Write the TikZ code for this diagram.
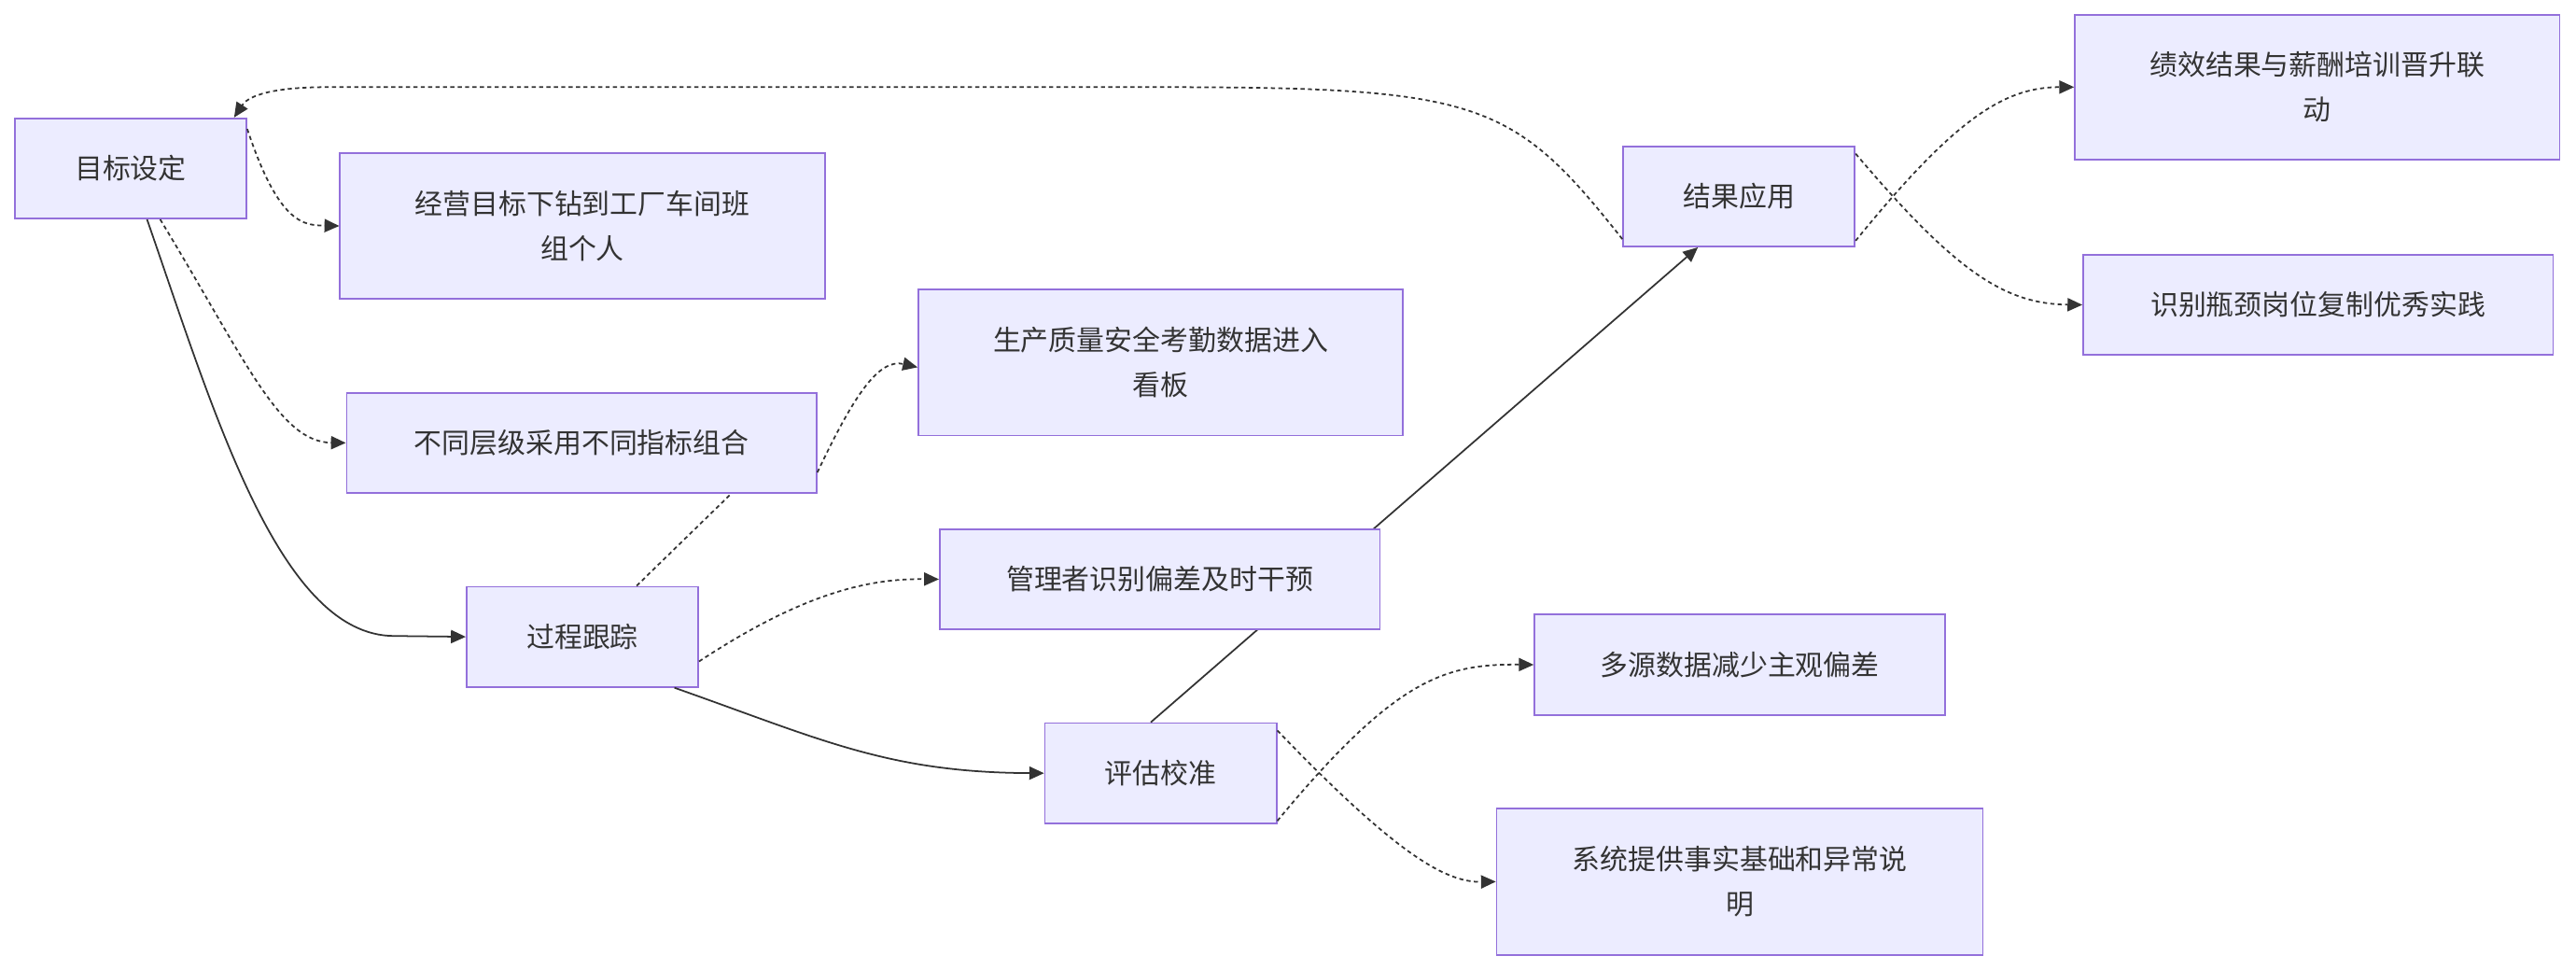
\documentclass[tikz,border=0pt]{standalone}
\usepackage{fontspec}
\setmainfont{Noto Sans CJK SC}
\usetikzlibrary{arrows.meta}
\definecolor{bx}{HTML}{ECECFF}
\definecolor{bd}{HTML}{9370DB}
\definecolor{ln}{HTML}{333333}
\begin{document}
\begin{tikzpicture}[x=1pt,y=-1pt,
  box/.style={draw=bd,fill=bx,line width=1pt,align=center,inner sep=0pt,font=\fontsize{17}{27}\selectfont,text=ln},
  e/.style={draw=ln,line width=1pt,-{Triangle[length=9pt,width=8pt]}},
  d/.style={e,dash pattern=on 2.5pt off 2pt}]
\useasboundingbox (0,0) rectangle (1568,590);
% solid behind
\coordinate (c1) at (0,0);
\node[box,minimum width=141pt,minimum height=61pt] (a) at (79.5,102.5) {目标设定};
\node[box,minimum width=295pt,minimum height=89pt] (b) at (354.5,137.5) {经营目标下钻到工厂车间班\\组个人};
\node[box,minimum width=286pt,minimum height=61pt] (c) at (354,269.5) {不同层级采用不同指标组合};
\node[box,minimum width=295pt,minimum height=89pt] (f) at (706.5,220.5) {生产质量安全考勤数据进入\\看板};
\node[box,minimum width=141pt,minimum height=61pt] (p) at (354.5,387.5) {过程跟踪};
\node[box,minimum width=141pt,minimum height=61pt] (v) at (706.5,470.5) {评估校准};
\node[box,minimum width=141pt,minimum height=61pt] (r) at (1058.5,119.5) {结果应用};
\begin{scope}[on background layer/.style={}]
\end{scope}
\draw[e] ([xshift=-6pt]v.north) -- ([xshift=-25pt]r.south);
\node[box,minimum width=268pt,minimum height=61pt] (g) at (706,352.5) {管理者识别偏差及时干预};
\node[box,minimum width=250pt,minimum height=61pt] (h) at (1059,404.5) {多源数据减少主观偏差};
\node[box,minimum width=296pt,minimum height=89pt] (i) at (1059,536.5) {系统提供事实基础和异常说\\明};
\node[box,minimum width=295pt,minimum height=88pt] (j) at (1410.5,53) {绩效结果与薪酬培训晋升联\\动};
\node[box,minimum width=286pt,minimum height=61pt] (k) at (1411,185.5) {识别瓶颈岗位复制优秀实践};
\draw[e] ([xshift=10pt]a.south) .. controls (130,250) and (170,387) .. (240,387) -- (p.west);
\draw[e] ([xshift=-15pt]p.south east) .. controls (500,450) and (540,470) .. (v.west);
\draw[d] ([yshift=24pt]a.east) .. controls (170,137) and (185,137) .. (b.west);
\draw[d] ([xshift=18pt]a.south) .. controls (150,220) and (170,269) .. (c.west);
\draw[d] ([yshift=-18pt]c.east) .. controls (520,240) and (535,218) .. ([yshift=-3pt]f.west);
\draw[ln,line width=1pt,dash pattern=on 2.5pt off 2pt] ([xshift=33pt]p.north) -- ([xshift=91pt]c.south);
\draw[d] ([yshift=-15pt]p.east) .. controls (490,360) and (530,352) .. (g.west);
\draw[d] ([yshift=-29pt]v.east) .. controls (850,412) and (880,404) .. (h.west);
\draw[d] ([yshift=26pt]v.east) .. controls (850,520) and (880,537) .. (i.west);
\draw[d] ([yshift=-27pt]r.east) .. controls (1190,72) and (1220,53) .. ([yshift=0pt]j.west);
\draw[d] ([yshift=26pt]r.east) .. controls (1190,165) and (1220,185) .. (k.west);
\draw[d] ([yshift=-26pt]r.west) .. controls (920,60) and (900,53) .. (700,53) -- (200,53) .. controls (160,53) and (150,60) .. ([xshift=-8pt]a.north east);
\end{tikzpicture}
\end{document}
